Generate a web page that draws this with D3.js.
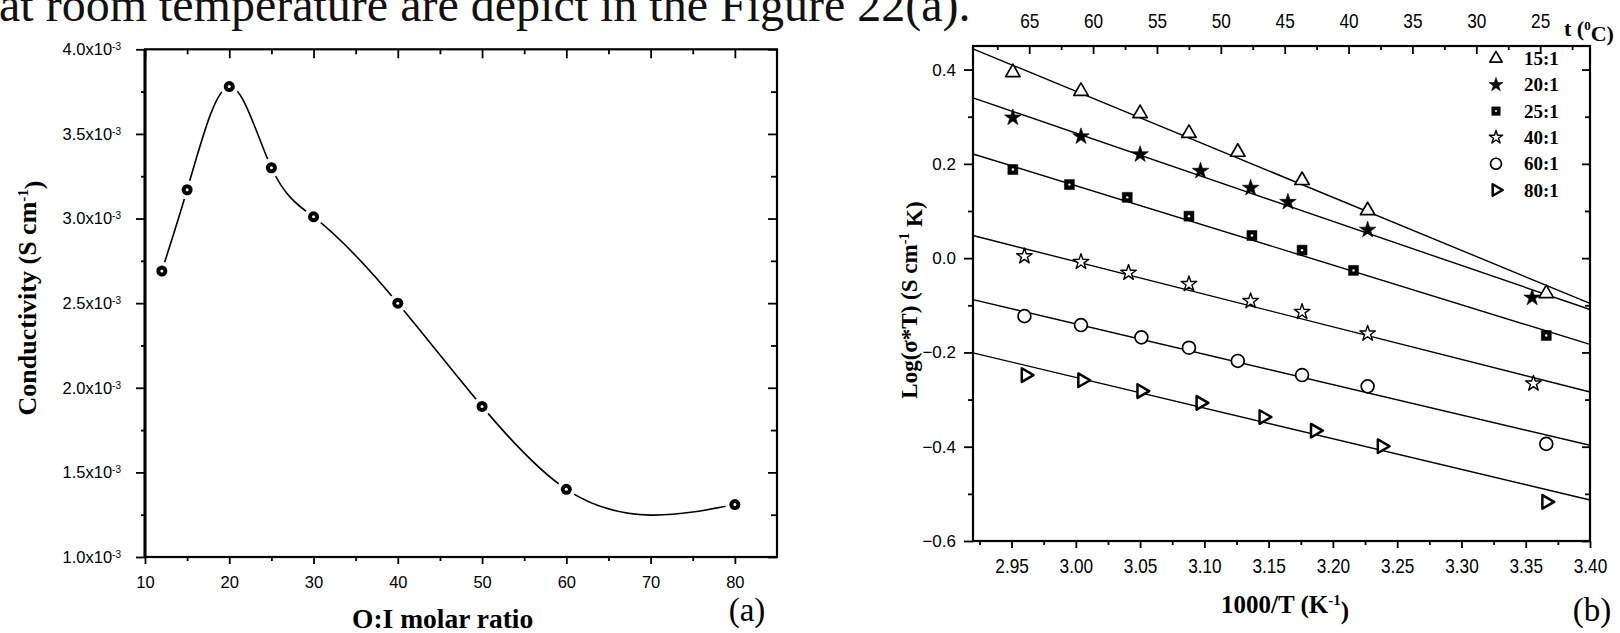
<!DOCTYPE html>
<html>
<head>
<meta charset="utf-8">
<script src="https://cdn.jsdelivr.net/npm/d3@7"></script>
<style>
  html, body { margin: 0; padding: 0; background: #fff; }
  svg { display: block; }
</style>
</head>
<body>
<svg id="fig" width="1620" height="633"></svg>
<script>
// ---------- Panel (a): conductivity vs O:I molar ratio ----------
const molarRatio   = [12, 15, 20, 25, 30, 40, 50, 60, 80];
const conductivity = [2.69e-3, 3.17e-3, 3.78e-3, 3.30e-3, 3.01e-3, 2.50e-3, 1.89e-3, 1.40e-3, 1.31e-3];
const ratioTicks   = [10, 20, 30, 40, 50, 60, 70, 80];
const ratioMinor   = [15, 25, 35, 45, 55, 65, 75];
const condTicks    = [1.0e-3, 1.5e-3, 2.0e-3, 2.5e-3, 3.0e-3, 3.5e-3, 4.0e-3];
const condMinor    = [1.25e-3, 1.75e-3, 2.25e-3, 2.75e-3, 3.25e-3, 3.75e-3];

// ---------- Panel (b): Arrhenius plot, Log(sigma*T) vs 1000/T ----------
const seriesNames = ["15:1", "20:1", "25:1", "40:1", "60:1", "80:1"];
const invT15 = [2.951, 3.004, 3.050, 3.088, 3.126, 3.176, 3.227, 3.366];
const logST15 = [0.394, 0.354, 0.307, 0.265, 0.225, 0.165, 0.101, -0.075];
const invT20 = [2.951, 3.004, 3.050, 3.097, 3.136, 3.165, 3.227, 3.355];
const logST20 = [0.298, 0.258, 0.220, 0.185, 0.149, 0.119, 0.060, -0.084];
const invT25 = [2.951, 2.995, 3.040, 3.088, 3.137, 3.176, 3.216, 3.366];
const logST25 = [0.188, 0.156, 0.129, 0.089, 0.048, 0.017, -0.026, -0.164];
const invT40 = [2.960, 3.004, 3.041, 3.088, 3.136, 3.176, 3.227, 3.356];
const logST40 = [0.004, -0.008, -0.031, -0.055, -0.091, -0.114, -0.160, -0.266];
const invT60 = [2.960, 3.004, 3.051, 3.088, 3.126, 3.176, 3.227, 3.366];
const logST60 = [-0.123, -0.142, -0.168, -0.190, -0.218, -0.248, -0.272, -0.394];
const invT80 = [2.961, 3.005, 3.051, 3.097, 3.146, 3.186, 3.238, 3.366];
const logST80 = [-0.248, -0.259, -0.282, -0.307, -0.337, -0.366, -0.399, -0.517];
// linear fits: value at 1000/T = 2.92 and at 1000/T = 3.40
const fitStart = [0.444, 0.340, 0.221, 0.048, -0.088, -0.201];
const fitEnd   = [-0.096, -0.109, -0.183, -0.284, -0.397, -0.513];
const invTTicks = [2.95, 3.00, 3.05, 3.10, 3.15, 3.20, 3.25, 3.30, 3.35, 3.40];
const invTMinor = [2.925, 2.975, 3.025, 3.075, 3.125, 3.175, 3.225, 3.275, 3.325, 3.375];
const logTicks  = [-0.6, -0.4, -0.2, 0.0, 0.2, 0.4];
const logMinor  = [-0.5, -0.3, -0.1, 0.1, 0.3];
const tempTicks = [65, 60, 55, 50, 45, 40, 35, 30, 25];
const tempMinor = [67.5, 62.5, 57.5, 52.5, 47.5, 42.5, 37.5, 32.5, 27.5, 22.5];

const svg = d3.select("#fig");
const SANS = "'Liberation Sans', Arial, sans-serif";
const SERIF = "'Liberation Serif', 'Times New Roman', serif";

// Natural cubic spline with y as a function of x (x must increase),
// emitted as cubic Bezier segments; usable as a d3.line() curve.
function curveNaturalX(context) {
  return {
    areaStart() {}, areaEnd() {},
    lineStart() { this._x = []; this._y = []; },
    point(x, y) { this._x.push(+x); this._y.push(+y); },
    lineEnd() {
      const x = this._x, y = this._y, n = x.length;
      if (!n) return;
      context.moveTo(x[0], y[0]);
      if (n === 1) return;
      if (n === 2) { context.lineTo(x[1], y[1]); return; }
      const h = d3.range(n - 1).map(i => x[i + 1] - x[i]);
      const M = new Array(n).fill(0);
      // tridiagonal system for interior second derivatives (Thomas algorithm)
      const m = n - 2, a = [], b = [], c = [], d = [];
      for (let k = 0; k < m; k++) {
        const i = k + 1;
        a[k] = h[i - 1]; b[k] = 2 * (h[i - 1] + h[i]); c[k] = h[i];
        d[k] = 6 * ((y[i + 1] - y[i]) / h[i] - (y[i] - y[i - 1]) / h[i - 1]);
      }
      for (let k = 1; k < m; k++) {
        const w = a[k] / b[k - 1];
        b[k] -= w * c[k - 1]; d[k] -= w * d[k - 1];
      }
      M[m] = d[m - 1] / b[m - 1];
      for (let k = m - 2; k >= 0; k--) M[k + 1] = (d[k] - c[k] * M[k + 2]) / b[k];
      for (let i = 0; i < n - 1; i++) {
        const hi = h[i], s = (y[i + 1] - y[i]) / hi;
        const m0 = s - hi * (2 * M[i] + M[i + 1]) / 6;
        const m1 = s + hi * (M[i] + 2 * M[i + 1]) / 6;
        context.bezierCurveTo(x[i] + hi / 3, y[i] + m0 * hi / 3,
                              x[i + 1] - hi / 3, y[i + 1] - m1 * hi / 3,
                              x[i + 1], y[i + 1]);
      }
    }
  };
}

// running text above the figure
svg.append("text")
  .attr("x", -1).attr("y", 21)
  .style("font-family", SERIF).style("font-size", "48px").attr("fill", "#111")
  .text("at room temperature are depict in the Figure 22(a).");

function styleAxis(g, size, narrow) {
  g.select(".domain").remove();
  g.selectAll(".tick line").attr("stroke", "#000").attr("stroke-width", 1.8);
  const t = g.selectAll(".tick text").attr("fill", "#000")
    .style("font-family", SANS).style("font-size", size + "px");
  if (narrow) t.attr("transform", "scale(0.82,1)");
}

// ================= Panel (a) =================
const A = { l: 145, r: 777, t: 49.3, b: 557 };
const xA = d3.scaleLinear().domain([10, 85]).range([A.l, A.r]);
const yA = d3.scaleLinear().domain([1.0e-3, 4.0e-3]).range([A.b, A.t]);
const gA = svg.append("g");

gA.append("g").attr("transform", `translate(0,${A.b})`)
  .call(d3.axisBottom(xA).tickValues(ratioTicks).tickSize(7).tickPadding(12).tickFormat(d3.format("d")))
  .call(g => styleAxis(g, 16.5));
gA.append("g").attr("transform", `translate(0,${A.b})`)
  .call(d3.axisBottom(xA).tickValues(ratioMinor).tickSize(4).tickFormat(""))
  .call(g => styleAxis(g, 16.5));
gA.append("g").attr("transform", `translate(0,${A.t})`)
  .call(d3.axisTop(xA).tickValues(ratioTicks).tickSize(-9).tickFormat(""))
  .call(g => styleAxis(g, 16.5));
gA.append("g").attr("transform", `translate(0,${A.t})`)
  .call(d3.axisTop(xA).tickValues(ratioMinor).tickSize(-5).tickFormat(""))
  .call(g => styleAxis(g, 16.5));

const leftA = gA.append("g").attr("transform", `translate(${A.l},0)`)
  .call(d3.axisLeft(yA).tickValues(condTicks).tickSize(9).tickPadding(15).tickFormat(d => (d * 1e3).toFixed(1)))
  .call(g => styleAxis(g, 16.5));
leftA.selectAll(".tick text").each(function () {
  const t = d3.select(this);
  const mant = t.text();
  t.text(null);
  t.append("tspan").text(mant + "x10");
  t.append("tspan").attr("dy", "-0.5em").style("font-size", "10px").text("-3");
});
gA.append("g").attr("transform", `translate(${A.l},0)`)
  .call(d3.axisLeft(yA).tickValues(condMinor).tickSize(4).tickFormat(""))
  .call(g => styleAxis(g, 16.5));
gA.append("g").attr("transform", `translate(${A.r},0)`)
  .call(d3.axisRight(yA).tickValues(condTicks).tickSize(-9).tickFormat(""))
  .call(g => styleAxis(g, 16.5));
gA.append("g").attr("transform", `translate(${A.r},0)`)
  .call(d3.axisRight(yA).tickValues(condMinor).tickSize(-6).tickFormat(""))
  .call(g => styleAxis(g, 16.5));

gA.append("rect")
  .attr("x", A.l).attr("y", A.t).attr("width", A.r - A.l).attr("height", A.b - A.t)
  .attr("fill", "none").attr("stroke", "#000").attr("stroke-width", 2.2);
gA.append("line")
  .attr("x1", A.l).attr("x2", A.l).attr("y1", A.t).attr("y2", A.b)
  .attr("stroke", "#000").attr("stroke-width", 3);

const ptsA = molarRatio.map((m, i) => [m, conductivity[i]]);
gA.append("path")
  .datum(ptsA)
  .attr("d", d3.line().x(d => xA(d[0])).y(d => yA(d[1])).curve(curveNaturalX))
  .attr("fill", "none").attr("stroke", "#000").attr("stroke-width", 1.6);
// white halo leaves a small gap between curve and symbol
gA.selectAll("circle.halo").data(ptsA).join("circle").attr("class", "halo")
  .attr("cx", d => xA(d[0])).attr("cy", d => yA(d[1])).attr("r", 9.5).attr("fill", "#fff");
gA.selectAll("circle.dot").data(ptsA).join("circle").attr("class", "dot")
  .attr("cx", d => xA(d[0])).attr("cy", d => yA(d[1])).attr("r", 5.5).attr("fill", "#000");
gA.selectAll("circle.pip").data(ptsA).join("circle").attr("class", "pip")
  .attr("cx", d => xA(d[0])).attr("cy", d => yA(d[1])).attr("r", 1.5).attr("fill", "#fff");

gA.append("text")
  .attr("transform", `translate(36,298) rotate(-90)`)
  .attr("text-anchor", "middle")
  .style("font-family", SERIF).style("font-size", "26px").style("font-weight", "bold")
  .call(t => {
    t.append("tspan").text("Conductivity (S cm");
    t.append("tspan").attr("dy", "-0.55em").style("font-size", "15px").text("-1");
    t.append("tspan").attr("dy", "0.55em").text(")");
  });
gA.append("text")
  .attr("x", 352).attr("y", 628)
  .style("font-family", SERIF).style("font-size", "27.5px").style("font-weight", "bold")
  .text("O:I molar ratio");
gA.append("text")
  .attr("x", 747).attr("y", 621).attr("text-anchor", "middle")
  .style("font-family", SERIF).style("font-size", "33px")
  .text("(a)");

// ================= Panel (b) =================
const B = { l: 973, r: 1590, t: 46, b: 541 };
const xB = d3.scaleLinear().domain([2.92, 3.40]).range([B.l, B.r]);
const yB = d3.scaleLinear().domain([-0.6, 0.45]).range([B.b, B.t]);
const tB = d3.scaleLinear().domain([69.4, 21.1]).range([B.l, B.r]);
const gB = svg.append("g");

gB.append("g").attr("transform", `translate(0,${B.b})`)
  .call(d3.axisBottom(xB).tickValues(invTTicks).tickSize(7).tickPadding(10).tickFormat(d3.format(".2f")))
  .call(g => styleAxis(g, 21, true));
gB.append("g").attr("transform", `translate(0,${B.b})`)
  .call(d3.axisBottom(xB).tickValues(invTMinor).tickSize(4).tickFormat(""))
  .call(g => styleAxis(g, 21));
gB.append("g").attr("transform", `translate(0,${B.t})`)
  .call(d3.axisTop(tB).tickValues(tempTicks).tickSize(-8).tickPadding(18).tickFormat(d3.format("d")))
  .call(g => styleAxis(g, 21, true));
gB.append("g").attr("transform", `translate(0,${B.t})`)
  .call(d3.axisTop(tB).tickValues(tempMinor).tickSize(-4).tickFormat(""))
  .call(g => styleAxis(g, 21));
gB.append("g").attr("transform", `translate(${B.l},0)`)
  .call(d3.axisLeft(yB).tickValues(logTicks).tickSize(9).tickPadding(8).tickFormat(d3.format(".1f")))
  .call(g => styleAxis(g, 17));
gB.append("g").attr("transform", `translate(${B.l},0)`)
  .call(d3.axisLeft(yB).tickValues(logMinor).tickSize(5).tickFormat(""))
  .call(g => styleAxis(g, 17));
gB.append("g").attr("transform", `translate(${B.r},0)`)
  .call(d3.axisRight(yB).tickValues(logTicks).tickSize(-8).tickFormat(""))
  .call(g => styleAxis(g, 17));
gB.append("g").attr("transform", `translate(${B.r},0)`)
  .call(d3.axisRight(yB).tickValues(logMinor).tickSize(-5).tickFormat(""))
  .call(g => styleAxis(g, 17));

gB.append("rect")
  .attr("x", B.l).attr("y", B.t).attr("width", B.r - B.l).attr("height", B.b - B.t)
  .attr("fill", "none").attr("stroke", "#000").attr("stroke-width", 2.2);

const invTs = [invT15, invT20, invT25, invT40, invT60, invT80];
const logSTs = [logST15, logST20, logST25, logST40, logST60, logST80];

// fitted straight lines across the full axis range
const xDom = xB.domain();
const fitLine = d3.line().x(d => xB(d[0])).y(d => yB(d[1]));
seriesNames.forEach((name, i) => {
  gB.append("path")
    .datum([[xDom[0], fitStart[i]], [xDom[1], fitEnd[i]]])
    .attr("d", fitLine)
    .attr("fill", "none").attr("stroke", "#000").attr("stroke-width", 1.4);
});

// symbol style for each series
const markStyles = [
  { type: d3.symbolTriangle, size: 90, fill: "#fff", sw: 1.7, rot: 0 },
  { type: d3.symbolStar,     size: 85, fill: "#000", sw: 0.6, rot: 0 },
  { type: d3.symbolSquare,   size: 100, fill: "#000", sw: 0.5, rot: 0, pip: true },
  { type: d3.symbolStar,     size: 75, fill: "#fff", sw: 1.4, rot: 0 },
  { type: d3.symbolCircle,   size: 130, fill: "#fff", sw: 1.7, rot: 0 },
  { type: d3.symbolTriangle, size: 80, fill: "#fff", sw: 2.5, rot: 90 }
];

function drawMark(g, st, cx, cy, scale) {
  g.append("path")
    .attr("d", d3.symbol().type(st.type).size(st.size * scale * scale)())
    .attr("transform", `translate(${cx},${cy}) rotate(${st.rot})`)
    .attr("fill", st.fill).attr("stroke", "#000").attr("stroke-width", st.sw)
    .attr("stroke-linejoin", "round");
  if (st.pip) {
    g.append("circle").attr("cx", cx).attr("cy", cy).attr("r", 1.2 * scale).attr("fill", "#fff");
  }
}

seriesNames.forEach((name, i) => {
  const gs = gB.append("g");
  invTs[i].forEach((x, j) => drawMark(gs, markStyles[i], xB(x), yB(logSTs[i][j]), 1));
});

// legend
const legG = gB.append("g");
seriesNames.forEach((name, i) => {
  const y = 65 + i * 26.3;
  drawMark(legG, markStyles[i], 1496, y - 6.5, 0.85);
  legG.append("text").attr("x", 1524).attr("y", y)
    .style("font-family", SERIF).style("font-size", "19px").style("font-weight", "bold")
    .text(name);
});

// top-axis unit
gB.append("text")
  .attr("x", 1564).attr("y", 36)
  .style("font-family", SERIF).style("font-size", "22px").style("font-weight", "bold")
  .call(t => {
    t.append("tspan").text("t (");
    t.append("tspan").attr("dy", "-0.5em").style("font-size", "13px").text("0");
    t.append("tspan").attr("dy", "0.5em").text("C)");
  });

gB.append("text")
  .attr("transform", `translate(917,300) rotate(-90)`)
  .attr("text-anchor", "middle")
  .style("font-family", SERIF).style("font-size", "23px").style("font-weight", "bold")
  .call(t => {
    t.append("tspan").text("Log(σ*T) (S cm");
    t.append("tspan").attr("dy", "-0.55em").style("font-size", "14px").text("-1");
    t.append("tspan").attr("dy", "0.55em").text(" K)");
  });
gB.append("text")
  .attr("x", 1221).attr("y", 613)
  .style("font-family", SERIF).style("font-size", "25px").style("font-weight", "bold")
  .call(t => {
    t.append("tspan").text("1000/T (K");
    t.append("tspan").attr("dy", "-0.55em").style("font-size", "15px").text("-1");
    t.append("tspan").attr("dy", "0.55em").text(")");
  });
gB.append("text")
  .attr("x", 1592).attr("y", 621).attr("text-anchor", "middle")
  .style("font-family", SERIF).style("font-size", "33px")
  .text("(b)");
</script>
</body>
</html>
